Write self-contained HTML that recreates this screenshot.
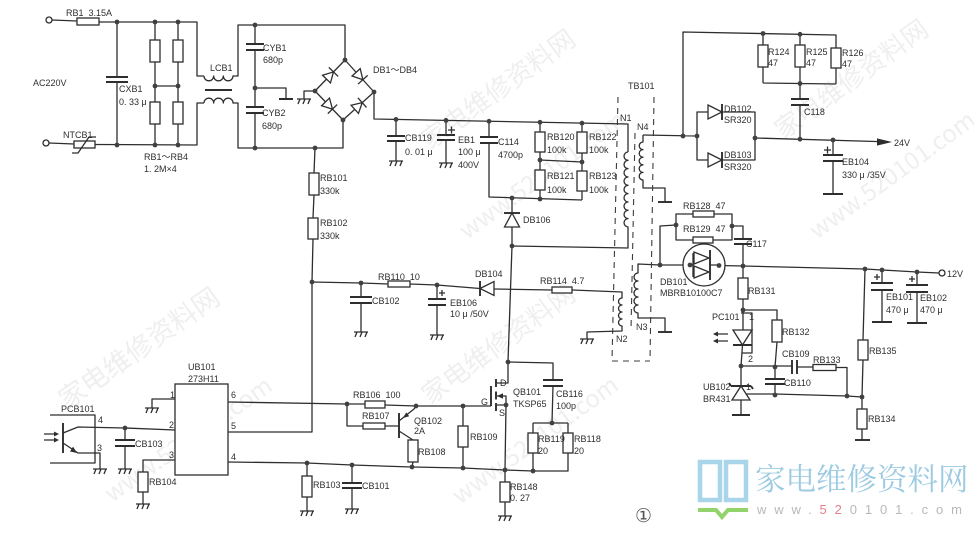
<!DOCTYPE html>
<html><head><meta charset="utf-8"><style>
html,body{margin:0;padding:0;background:#fff}
svg{display:block}
.w{stroke:#2e2e2e;stroke-width:1.3;fill:none;stroke-linejoin:round}
.r{stroke:#2e2e2e;stroke-width:1.3;fill:#fff}
.p{stroke:#2e2e2e;stroke-width:1.9;fill:none}
.ds{stroke:#3c3c3c;stroke-width:1.1;fill:none;stroke-dasharray:6 5}
.dot{fill:#404040}
.f{fill:#2e2e2e;stroke:none}
text{font-family:"Liberation Sans","Noto Sans CJK SC",sans-serif;font-size:9px;fill:#2e2e2e;white-space:pre}
.wm{font-family:"Noto Sans CJK SC","Liberation Sans",sans-serif;fill:#efefef}
</style></head><body>
<svg width="974" height="534" viewBox="0 0 974 534" xmlns="http://www.w3.org/2000/svg">
<defs>
<g id="gh"><path class="w" d="M-7,0 H7 M-4,0 l-2,5 M1,0 l-2,5 M6,0 l-2,5"/></g>
</defs>
<rect width="974" height="534" fill="#fff"/>

<!-- faint watermarks -->
<text class="wm" transform="translate(430,150) rotate(-36)" style="font-size:26px">家电维修资料网</text>
<text class="wm" transform="translate(467,240) rotate(-36)" style="font-size:24px">www.520101.com</text>
<text class="wm" transform="translate(67,410) rotate(-35)" style="font-size:27px">家电维修资料网</text>
<text class="wm" transform="translate(112,503) rotate(-35)" style="font-size:24px">www.520101.com</text>
<text class="wm" transform="translate(783,140) rotate(-36)" style="font-size:26px">家电维修资料网</text>
<text class="wm" transform="translate(817,240) rotate(-36)" style="font-size:24px">www.520101.com</text>
<text class="wm" transform="translate(430,405) rotate(-36)" style="font-size:26px">家电维修资料网</text>
<text class="wm" transform="translate(460,505) rotate(-36)" style="font-size:24px">www.520101.com</text>

<!-- ===== AC input ===== -->
<circle cx="49" cy="20" r="3" class="r"/>
<path class="w" d="M52,20 L77,21 M99,22 L197,22 L197,76 L204,76"/>
<rect class="r" x="77" y="18" width="22" height="7"/>
<path class="w" d="M117,22 V77 M117,82 V145"/>
<path class="p" d="M106,77 H128 M106,82 H128"/>
<path class="w" d="M155,22 V40 M155,62 V102 M155,124 V145 M178,22 V40 M178,62 V102 M178,124 V145 M155,86 H178"/>
<rect class="r" x="150" y="40" width="10" height="22"/>
<rect class="r" x="150" y="102" width="10" height="22"/>
<rect class="r" x="173" y="40" width="10" height="22"/>
<rect class="r" x="173" y="102" width="10" height="22"/>
<circle cx="46" cy="143" r="3" class="r"/>
<path class="w" d="M49,143 L74,144 M95,144.5 L197,145 L197,103 L204,103"/>
<rect class="r" x="74" y="141" width="21" height="7"/>
<path class="w" d="M72,153 H78 L89,137 H96"/>

<!-- LCB1 -->
<path class="w" d="M204,76 a4.83,4.83 0 0 0 9.67,0 a4.83,4.83 0 0 0 9.67,0 a4.83,4.83 0 0 0 9.67,0 L238,76 L238,25 L345,25 L345,60"/>
<path class="w" d="M204,103 a4.83,4.83 0 0 1 9.67,0 a4.83,4.83 0 0 1 9.67,0 a4.83,4.83 0 0 1 9.67,0 L238,103 L238,148 L343,148 L343,120"/>
<path class="p" d="M205,90 H232"/>

<!-- CYB1/2 -->
<path class="w" d="M255,25 V44 M255,50 V107 M255,113 V148 M255,88 H286 V99"/>
<path class="p" d="M246,44 H264 M246,50 H264 M246,107 H264 M246,113 H264 M279,99 H293"/>

<!-- Bridge -->
<path class="w" d="M315,91 L345,60 L374,92 L343,120 Z"/>
<g transform="translate(330,75.5) rotate(-45.9)"><path class="r" d="M-5,-5.5 L5,0 L-5,5.5 Z"/><path class="w" d="M5,-6.5 V6.5"/></g>
<g transform="translate(359.5,76) rotate(47.8)"><path class="r" d="M-5,-5.5 L5,0 L-5,5.5 Z"/><path class="w" d="M5,-6.5 V6.5"/></g>
<g transform="translate(329,105.5) rotate(46)"><path class="r" d="M-5,-5.5 L5,0 L-5,5.5 Z"/><path class="w" d="M5,-6.5 V6.5"/></g>
<g transform="translate(358.5,106) rotate(-42.1)"><path class="r" d="M-5,-5.5 L5,0 L-5,5.5 Z"/><path class="w" d="M5,-6.5 V6.5"/></g>
<path class="w" d="M315,91 H304 V99"/>
<use href="#gh" x="304" y="99"/>

<!-- DC bus -->
<path class="w" d="M374,92 V119 L628,124 V152"/>
<path class="w" d="M396,119.4 V136 M396,141 V161"/>
<path class="p" d="M387,136 H405 M387,141 H405"/>
<use href="#gh" x="396" y="161"/>
<path class="w" d="M446,120.4 V135 M446,140 V163"/>
<path class="p" d="M437,135 H455 M437,140 H455"/>
<path class="w" d="M448,130 h7 M451.5,126.5 v7"/>
<use href="#gh" x="446" y="163"/>
<path class="w" d="M489,121.3 V137 M489,143 V197 L582,200"/>
<path class="p" d="M480,137 H498 M480,143 H498"/>
<path class="w" d="M540,122.3 V132 M540,152 V170 M540,190 V199 M582,123.2 V132 M582,153 V171 M582,191 V200 M540,160 L582,162"/>
<rect class="r" x="535" y="132" width="10" height="20"/>
<rect class="r" x="535" y="170" width="10" height="20"/>
<rect class="r" x="577" y="132" width="10" height="21"/>
<rect class="r" x="577" y="171" width="10" height="20"/>
<!-- DB106 -->
<path class="w" d="M512,198 V213 M512,227 V246 L508,362"/>
<path class="r" d="M512,213 L519.5,227 L504.5,227 Z"/>
<path class="p" d="M504,213 H520"/>

<!-- Transformer -->
<path class="w" d="M628,152 a4.17,4.17 0 0 0 0,8.33 a4.17,4.17 0 0 0 0,8.33 a4.17,4.17 0 0 0 0,8.33 a4.17,4.17 0 0 0 0,8.33 a4.17,4.17 0 0 0 0,8.33 a4.17,4.17 0 0 0 0,8.33 a4.17,4.17 0 0 0 0,8.33 a4.17,4.17 0 0 0 0,8.33 a4.17,4.17 0 0 0 0,8.33 V248 L512,246"/>
<path class="w" d="M643,135 V142 a3.8,3.8 0 0 0 0,7.6 a3.8,3.8 0 0 0 0,7.6 a3.8,3.8 0 0 0 0,7.6 a3.8,3.8 0 0 0 0,7.6 a3.8,3.8 0 0 0 0,7.6 V188 H665 V202"/>
<path class="p" d="M658,202 H672"/>
<path class="w" d="M660,265 L638,264 V273 a4,4 0 0 0 0,8 a4,4 0 0 0 0,8 a4,4 0 0 0 0,8 a4,4 0 0 0 0,8 a4,4 0 0 0 0,8 V318 H665 V332"/>
<path class="p" d="M658,332 H672"/>
<path class="w" d="M572,290 L622,292 V298 a3.5,3.5 0 0 0 0,7 a3.5,3.5 0 0 0 0,7 a3.5,3.5 0 0 0 0,7 a3.5,3.5 0 0 0 0,7 V331 L587,332 V339"/>
<use href="#gh" x="587" y="339"/>
<path class="ds" d="M618,97 L612,361 M635,133 L631,330 M654,97 L650,361 M612,361 H650"/>

<!-- 24V output -->
<path class="w" d="M643,135 L697,136 M683,136 V32 L836,35 V48 M763,33.5 V45 M763,67 V83 M800,34.3 V45 M800,67 V83.5 M836,68 V84 M763,83 L836,84 M800,83.5 V99 M800,105 V139"/>
<rect class="r" x="758" y="45" width="10" height="22"/>
<rect class="r" x="795" y="45" width="10" height="22"/>
<rect class="r" x="831" y="48" width="10" height="20"/>
<path class="p" d="M791,99 H809 M791,105 H809"/>
<path class="w" d="M697,136 V112 H708 M722,112 H755 V138 M697,136 V160 H708 M722,160 H755 V138 M755,138 L880,141.6"/>
<path class="r" d="M708,105 L722,112 L708,119 Z"/>
<path class="r" d="M708,153 L722,160 L708,167 Z"/>
<path class="p" d="M722,104 V120 M722,152 V168"/>
<polygon class="f" points="877,138.4 892,142 877,145.6"/>
<path class="w" d="M833,140 V155 M833,161 V194 M824,150 h7 M827.5,146.5 v7"/>
<path class="p" d="M823,155 H843 M823,161 H843 M823,194 H843"/>

<!-- Snubber & DB101 -->
<path class="w" d="M660,265 V226 L676,225 V214 H693 M714,214 H732 V240 H713 M693,240 H676 V225 M732,226 H743 V239 M743,244 V266"/>
<rect class="r" x="693" y="211" width="21" height="6"/>
<rect class="r" x="693" y="237" width="20" height="6"/>
<path class="p" d="M734,239 H752 M734,244 H752"/>
<path class="w" d="M660,265 L690,265 L719,265.5 L743,266 L865,269 L882,270 L917,272 L939,273"/>
<circle cx="704" cy="265" r="21" class="r"/>
<path class="w" d="M690,265 H693 M693,253 V277 M710,265 H719"/>
<path class="r" d="M694,252 L709,258 L694,264 Z"/>
<path class="r" d="M694,266 L709,272 L694,278 Z"/>
<path class="p" d="M710,250 V280"/>
<circle cx="942" cy="273" r="3" class="r"/>
<path class="w" d="M882,270 V283 M882,290 V322 M917,272 V285 M917,292 V323 M874,277 h6 M877,274 v6 M909,279 h6 M912,276 v6"/>
<path class="p" d="M871,283 H893 M871,290 H893 M872,322 H892 M906,285 H928 M906,292 H928 M907,323 H927"/>

<!-- Feedback -->
<path class="w" d="M743,266 V278 M743,299 V310 H777 V320 M777,342 L775,367 M743,310 V330 M742.5,345 L741,366"/>
<rect class="r" x="738" y="278" width="10" height="21"/>
<rect class="r" x="772" y="320" width="10" height="22"/>
<path class="r" d="M733,330 L752,330 L742.5,345 Z"/>
<path class="p" d="M733,345 H752"/>
<path class="w" d="M741,313 H752 V353 H742"/>
<path class="w" d="M728,334 H714 M728,341 H714"/>
<polygon class="f" points="713,334 718,331.5 718,336.5"/>
<polygon class="f" points="713,341 718,338.5 718,343.5"/>
<path class="w" d="M741,366 H792 M797,367 H813 M836,367.5 H847 V396 M775,367 V379 M775,384 V395"/>
<path class="p" d="M792,360 V374 M797,360 V374 M765,379 H785 M765,384 H785"/>
<rect class="r" x="813" y="364.5" width="23" height="6"/>
<path class="w" d="M741,366 V386 M741,400 V415 M746,394 H775 L847,396 L862,397"/>
<path class="r" d="M741,386 L750,400 L732,400 Z"/>
<path class="p" d="M731,386 H751 M731,386 l-2,-3 M751,386 l2,3 M732,415 H750"/>
<path class="w" d="M865,269 L863,340 M863,360 L862,397 V409 M862,429 V440"/>
<rect class="r" x="858" y="340" width="10" height="20"/>
<rect class="r" x="857" y="409" width="10" height="20"/>
<path class="p" d="M855,440 H870"/>

<!-- Startup / aux -->
<path class="w" d="M315,148 L314,173 M314,195 L313,218 M313,239 L312,282 V432 L228,432"/>
<rect class="r" x="309" y="173" width="10" height="22"/>
<rect class="r" x="308" y="218" width="10" height="21"/>
<path class="w" d="M312,282 L361,283 L388,284 M410,284 L437,285 L480,288.5 M494,289 L552,290"/>
<rect class="r" x="388" y="281" width="22" height="6"/>
<rect class="r" x="552" y="287" width="20" height="6"/>
<path class="r" d="M480,288.5 L494,281.5 L494,295.5 Z"/>
<path class="p" d="M480,281 V296"/>
<path class="w" d="M361,283 V297 M361,303 V332 M437,285 V299 M437,305 V335 M439,293 h6 M442,290 v6"/>
<path class="p" d="M350,297 H372 M350,303 H372 M428,299 H446 M428,305 H446"/>
<use href="#gh" x="361" y="332"/>
<use href="#gh" x="437" y="335"/>

<!-- MOSFET area -->
<path class="w" d="M508,362 L553,363 V380 M553,386 L552,423 M533,423 H568 M533,423 V433 M533,453 V471 M568,423 V433 M568,453 V471 H533"/>
<path class="p" d="M543,380 H563 M543,386 H563"/>
<rect class="r" x="528" y="433" width="10" height="20"/>
<rect class="r" x="563" y="433" width="10" height="20"/>
<path class="w" d="M508,362 V383 H497 M497,396 H506 V405 M497,405 H506 M506,405 L505,470 M463,406 H491"/>
<path class="p" d="M496,379 V387 M496,391.5 V399.5 M496,403 V411 M491,386 V406"/>
<polygon class="f" points="497,396 503,393.3 503,398.7"/>
<path class="w" d="M228,402 L347,404 H365 M385,405 L416,406 L463,406 M347,404 V426 H363 M385,426 H399"/>
<rect class="r" x="365" y="401" width="20" height="7"/>
<rect class="r" x="363" y="423" width="22" height="6"/>
<path class="p" d="M399,413 V438"/>
<path class="w" d="M399,421 L414,409 L416,406 M399,431 L413,440 M413,462 L412,467"/>
<polygon class="f" points="403,418 409.2,416.2 406.2,412.4"/>
<rect class="r" x="408" y="440" width="10" height="22"/>
<path class="w" d="M463,406 V426 M463,447 V468"/>
<rect class="r" x="458" y="426" width="10" height="21"/>
<path class="w" d="M228,462 L307,463 L352,465 L412,467 L463,468 L505,470 L533,471"/>
<path class="w" d="M307,463 V476 M307,497 V511 M352,465 V483 M352,488 V509 M505,470 V482 M505,502 V516"/>
<rect class="r" x="302" y="476" width="10" height="21"/>
<rect class="r" x="500" y="482" width="10" height="20"/>
<path class="p" d="M342,483 H362 M342,488 H362"/>
<use href="#gh" x="307" y="511"/>
<use href="#gh" x="352" y="509"/>
<use href="#gh" x="505" y="516"/>

<!-- UB101 and opto -->
<rect class="r" x="175" y="384" width="53" height="91"/>
<path class="w" d="M175,399 H152 V408 M175,430 L125,428 L78,427 L63,433 M175,460 H143 V472 M143,492 V504 M125,428 V440 M125,446 V469"/>
<rect class="r" x="138" y="472" width="10" height="20"/>
<path class="p" d="M115,440 H135 M115,446 H135"/>
<use href="#gh" x="152" y="408"/>
<use href="#gh" x="143" y="504"/>
<use href="#gh" x="125" y="469"/>
<path class="w" d="M50,415 H95 V463 H50 M63,443 L78,453 H100 V469"/>
<path class="p" d="M63,423 V453"/>
<polygon class="f" points="77,453 70,451.5 73,446.6"/>
<use href="#gh" x="100" y="469"/>
<path class="w" d="M44,434 H57 M44,440 H57"/>
<polygon class="f" points="59,434 54,431.5 54,436.5"/>
<polygon class="f" points="59,440 54,437.5 54,442.5"/>

<!-- junction dots -->
<g class="dot">
<circle cx="117" cy="22" r="2.4"/><circle cx="155" cy="22" r="2.4"/><circle cx="178" cy="22" r="2.4"/>
<circle cx="155" cy="86" r="2.4"/><circle cx="178" cy="86" r="2.4"/>
<circle cx="117" cy="145" r="2.4"/><circle cx="155" cy="145" r="2.4"/><circle cx="178" cy="145" r="2.4"/>
<circle cx="255" cy="25" r="2.4"/><circle cx="255" cy="88" r="2.4"/><circle cx="255" cy="148" r="2.4"/>
<circle cx="345" cy="60" r="2.4"/><circle cx="315" cy="91" r="2.4"/><circle cx="374" cy="92" r="2.4"/><circle cx="343" cy="120" r="2.4"/>
<circle cx="315" cy="148" r="2.4"/>
<circle cx="396" cy="119.4" r="2.4"/><circle cx="446" cy="120.4" r="2.4"/><circle cx="489" cy="121.3" r="2.4"/>
<circle cx="540" cy="122.3" r="2.4"/><circle cx="582" cy="123.2" r="2.4"/>
<circle cx="540" cy="160" r="2.4"/><circle cx="582" cy="162" r="2.4"/>
<circle cx="512" cy="198" r="2.4"/><circle cx="540" cy="199" r="2.4"/><circle cx="512" cy="246" r="2.4"/>
<circle cx="683" cy="136" r="2.4"/><circle cx="697" cy="136" r="2.4"/>
<circle cx="763" cy="33.5" r="2.4"/><circle cx="800" cy="34.3" r="2.4"/><circle cx="800" cy="83.5" r="2.4"/>
<circle cx="755" cy="138" r="2.4"/><circle cx="800" cy="139.2" r="2.4"/><circle cx="833" cy="140" r="2.4"/>
<circle cx="660" cy="265" r="2.4"/><circle cx="676" cy="225" r="2.4"/><circle cx="732" cy="226" r="2.4"/>
<circle cx="690" cy="265" r="2.4"/><circle cx="719" cy="265.5" r="2.4"/><circle cx="743" cy="266" r="2.4"/>
<circle cx="865" cy="269" r="2.4"/><circle cx="882" cy="270" r="2.4"/><circle cx="917" cy="272" r="2.4"/>
<circle cx="743" cy="310" r="2.4"/><circle cx="741" cy="366" r="2.4"/><circle cx="775" cy="367" r="2.4"/>
<circle cx="775" cy="395" r="2.4"/><circle cx="847" cy="396" r="2.4"/><circle cx="862" cy="397" r="2.4"/>
<circle cx="312" cy="282" r="2.4"/><circle cx="361" cy="283" r="2.4"/><circle cx="437" cy="285" r="2.4"/>
<circle cx="508" cy="362" r="2.4"/><circle cx="552" cy="423" r="2.4"/><circle cx="533" cy="471" r="2.4"/>
<circle cx="505" cy="470" r="2.4"/><circle cx="506" cy="405" r="2.4"/><circle cx="463" cy="406" r="2.4"/>
<circle cx="416" cy="406" r="2.4"/><circle cx="347" cy="404" r="2.4"/><circle cx="412" cy="467" r="2.4"/>
<circle cx="463" cy="468" r="2.4"/><circle cx="352" cy="465" r="2.4"/><circle cx="307" cy="463" r="2.4"/>
<circle cx="125" cy="428" r="2.4"/>
</g>

<!-- labels -->
<text x="66" y="16">RB1  3.15A</text>
<text x="33" y="86">AC220V</text>
<text x="119" y="92">CXB1</text>
<text x="119" y="105">0. 33 μ</text>
<text x="63" y="138">NTCB1</text>
<text x="144" y="160">RB1～RB4</text>
<text x="144" y="172">1. 2M×4</text>
<text x="210" y="71">LCB1</text>
<text x="263" y="51">CYB1</text>
<text x="263" y="63">680p</text>
<text x="262" y="116">CYB2</text>
<text x="262" y="129">680p</text>
<text x="373" y="73">DB1～DB4</text>
<text x="405" y="141">CB119</text>
<text x="405" y="155">0. 01 μ</text>
<text x="458" y="143">EB1</text>
<text x="458" y="155">100 μ</text>
<text x="458" y="168">400V</text>
<text x="498" y="145">C114</text>
<text x="498" y="158">4700p</text>
<text x="547" y="140">RB120</text>
<text x="547" y="153">100k</text>
<text x="547" y="179">RB121</text>
<text x="547" y="193">100k</text>
<text x="589" y="140">RB122</text>
<text x="589" y="153">100k</text>
<text x="589" y="179">RB123</text>
<text x="589" y="193">100k</text>
<text x="523" y="223">DB106</text>
<text x="628" y="89">TB101</text>
<text x="620" y="121">N1</text>
<text x="637" y="130">N4</text>
<text x="636" y="330">N3</text>
<text x="616" y="342">N2</text>
<text x="320" y="181">RB101</text>
<text x="320" y="194">330k</text>
<text x="320" y="226">RB102</text>
<text x="320" y="239">330k</text>
<text x="768" y="55">R124</text>
<text x="768" y="66">47</text>
<text x="806" y="55">R125</text>
<text x="806" y="66">47</text>
<text x="842" y="56">R126</text>
<text x="842" y="67">47</text>
<text x="804" y="115">C118</text>
<text x="724" y="112">DB102</text>
<text x="724" y="123">SR320</text>
<text x="724" y="158">DB103</text>
<text x="724" y="170">SR320</text>
<text x="894" y="146">24V</text>
<text x="842" y="165">EB104</text>
<text x="842" y="178">330 μ /35V</text>
<text x="683" y="209">RB128  47</text>
<text x="683" y="232">RB129  47</text>
<text x="746" y="247">C117</text>
<text x="660" y="285">DB101</text>
<text x="660" y="296">MBRB10100C7</text>
<text x="947" y="277">12V</text>
<text x="886" y="300">EB101</text>
<text x="886" y="313">470 μ</text>
<text x="920" y="301">EB102</text>
<text x="920" y="313">470 μ</text>
<text x="748" y="294">RB131</text>
<text x="712" y="320">PC101</text>
<text x="749" y="320">1</text>
<text x="748" y="362">2</text>
<text x="782" y="335">RB132</text>
<text x="782" y="357">CB109</text>
<text x="813" y="363">RB133</text>
<text x="784" y="386">CB110</text>
<text x="703" y="390">UB102</text>
<text x="703" y="402">BR431</text>
<text x="746" y="390">1</text>
<text x="869" y="354">RB135</text>
<text x="868" y="422">RB134</text>
<text x="378" y="280">RB110  10</text>
<text x="372" y="304">CB102</text>
<text x="450" y="306">EB106</text>
<text x="450" y="317">10 μ /50V</text>
<text x="475" y="277">DB104</text>
<text x="540" y="284">RB114  4.7</text>
<text x="556" y="397">CB116</text>
<text x="556" y="409">100p</text>
<text x="513" y="395">QB101</text>
<text x="513" y="407">TKSP65</text>
<text x="500" y="386">D</text>
<text x="481" y="405">G</text>
<text x="499" y="416">S</text>
<text x="353" y="398">RB106  100</text>
<text x="362" y="419">RB107</text>
<text x="414" y="424">QB102</text>
<text x="414" y="434">2A</text>
<text x="418" y="455">RB108</text>
<text x="470" y="440">RB109</text>
<text x="538" y="442">RB119</text>
<text x="538" y="454">20</text>
<text x="574" y="442">RB118</text>
<text x="574" y="454">20</text>
<text x="313" y="488">RB103</text>
<text x="362" y="489">CB101</text>
<text x="510" y="490">RB148</text>
<text x="510" y="501">0. 27</text>
<text x="188" y="370">UB101</text>
<text x="188" y="382">273H11</text>
<text x="170" y="398">1</text>
<text x="169" y="428">2</text>
<text x="169" y="458">3</text>
<text x="231" y="398">6</text>
<text x="231" y="429">5</text>
<text x="231" y="460">4</text>
<text x="135" y="447">CB103</text>
<text x="149" y="485">RB104</text>
<text x="61" y="412">PCB101</text>
<text x="98" y="423">4</text>
<text x="97" y="451">3</text>
<text x="635" y="522" style="font-family:'DejaVu Sans','Noto Sans CJK SC',sans-serif;font-size:19px;fill:#555">①</text>

<!-- logo -->
<rect x="700" y="462" width="20" height="38" fill="none" stroke="#a8d5ea" stroke-width="4.5"/>
<rect x="726" y="462" width="20" height="38" fill="none" stroke="#a8d5ea" stroke-width="4.5"/>
<path d="M698,510 H716 L722,517 L728,510 H748" fill="none" stroke="#93d36c" stroke-width="4"/>
<text x="755" y="490" style="font-family:'Noto Serif CJK SC','Noto Sans CJK SC',serif;font-size:30.5px;fill:#9dcbe2">家电维修资料网</text>
<text x="757" y="514" textLength="205" lengthAdjust="spacing" style="font-size:13px;fill:#b8b8b8">www.<tspan style="fill:#e5808a">52</tspan>0101.com</text>
</svg>
</body></html>
